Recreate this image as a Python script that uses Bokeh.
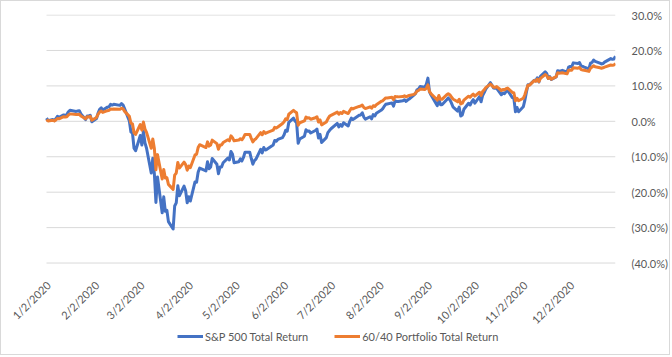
from math import pi
import pandas as pd
from bokeh.plotting import figure
from bokeh.models import Range1d, FixedTicker, Legend
from bokeh.core.properties import value
from bokeh.embed import file_html
from bokeh.resources import INLINE

# Trading days of 2020, per month
trading_days = {
    1: [2, 3, 6, 7, 8, 9, 10, 13, 14, 15, 16, 17, 21, 22, 23, 24, 27, 28, 29, 30, 31],
    2: [3, 4, 5, 6, 7, 10, 11, 12, 13, 14, 18, 19, 20, 21, 24, 25, 26, 27, 28],
    3: [2, 3, 4, 5, 6, 9, 10, 11, 12, 13, 16, 17, 18, 19, 20, 23, 24, 25, 26, 27, 30, 31],
    4: [1, 2, 3, 6, 7, 8, 9, 13, 14, 15, 16, 17, 20, 21, 22, 23, 24, 27, 28, 29, 30],
    5: [1, 4, 5, 6, 7, 8, 11, 12, 13, 14, 15, 18, 19, 20, 21, 22, 26, 27, 28, 29],
    6: [1, 2, 3, 4, 5, 8, 9, 10, 11, 12, 15, 16, 17, 18, 19, 22, 23, 24, 25, 26, 29, 30],
    7: [1, 2, 6, 7, 8, 9, 10, 13, 14, 15, 16, 17, 20, 21, 22, 23, 24, 27, 28, 29, 30, 31],
    8: [3, 4, 5, 6, 7, 10, 11, 12, 13, 14, 17, 18, 19, 20, 21, 24, 25, 26, 27, 28, 31],
    9: [1, 2, 3, 4, 8, 9, 10, 11, 14, 15, 16, 17, 18, 21, 22, 23, 24, 25, 28, 29, 30],
    10: [1, 2, 5, 6, 7, 8, 9, 12, 13, 14, 15, 16, 19, 20, 21, 22, 23, 26, 27, 28, 29, 30],
    11: [2, 3, 4, 5, 6, 9, 10, 11, 12, 13, 16, 17, 18, 19, 20, 23, 24, 25, 27, 30],
    12: [1, 2, 3, 4, 7, 8, 9, 10, 11, 14, 15, 16, 17, 18, 21, 22, 23, 24, 28, 29, 30, 31],
}

# S&P 500 Total Return (%), one value per trading day
sp500_total_return = [
    0.9, 0.2, 0.5, 0.2, 0.7, 1.4, 1.1, 1.8, 1.7, 1.9, 2.7, 3.1, 2.8, 2.9, 3.0, 2.1, 0.5, 1.5, 1.4, 1.7, -0.1,
    0.8, 2.3, 3.4, 3.8, 3.2, 4.0, 4.1, 4.8, 4.6, 4.8, 4.5, 5.0, 4.6, 3.5, 0.1, -3.0, -3.3, -7.6, -8.3,
    -4.0, -6.7, -2.8, -6.1, -7.6, -14.6, -10.4, -14.8, -22.9, -15.7, -25.8, -21.3, -25.4, -25.1, -28.3, -30.4, -23.9, -23.0, -18.2, -21.0, -18.3, -19.6,
    -23.0, -21.3, -22.5, -17.1, -17.2, -14.4, -13.2, -14.0, -11.4, -13.4, -12.9, -10.5, -12.1, -14.8, -12.9, -12.9, -11.7, -10.4, -10.9, -8.5, -9.3,
    -11.7, -11.4, -10.6, -11.2, -10.2, -8.7, -8.7, -10.5, -12.1, -11.1, -10.7, -7.9, -8.9, -7.4, -8.1, -7.9, -6.7, -5.4, -5.6, -5.1,
    -4.6, -3.8, -2.5, -2.8, -0.3, 0.9, 0.1, -0.4, -6.2, -5.0, -4.2, -2.4, -2.8, -2.7, -3.3, -2.6, -2.2, -4.7, -3.7, -6.0, -4.6, -3.2,
    -2.6, -2.1, -0.6, -1.6, -0.9, -1.4, -0.4, -1.3, 0.0, 0.9, 0.5, 0.8, 1.7, 1.8, 2.4, 1.2, 0.6, 1.3, 0.7, 1.9, 1.5, 2.3,
    3.1, 3.5, 4.2, 4.8, 4.9, 5.2, 4.3, 5.8, 5.6, 5.6, 5.8, 6.1, 5.6, 6.0, 6.3, 7.4, 7.8, 8.9, 9.1, 9.8, 9.6,
    10.5, 12.2, 8.3, 7.4, 4.4, 6.5, 4.7, 4.7, 6.1, 6.6, 6.1, 5.2, 4.1, 2.9, 4.0, 1.5, 1.8, 3.4, 5.1, 4.6, 5.5,
    6.1, 5.1, 7.0, 5.5, 7.3, 8.1, 9.1, 10.9, 10.2, 9.4, 9.3, 9.3, 7.5, 8.0, 7.8, 8.4, 8.7, 6.7, 6.4, 2.7, 3.9, 2.7,
    4.1, 5.9, 8.2, 10.3, 10.3, 11.6, 11.4, 12.3, 11.1, 12.7, 14.0, 13.5, 12.1, 12.6, 11.8, 12.5, 14.3, 14.1, 14.4, 13.9,
    15.3, 15.5, 15.4, 16.5, 16.3, 16.6, 15.6, 15.5, 15.3, 14.8, 16.4, 16.6, 17.3, 16.9, 16.4, 16.2, 16.3, 16.7, 17.7, 17.5, 17.6, 18.4,
]

# 60/40 Portfolio Total Return (%), one value per trading day
portfolio_6040_total_return = [
    0.5, 0.1, 0.3, 0.1, 0.4, 0.8, 0.7, 1.3, 1.2, 1.3, 1.8, 2.1, 1.9, 1.9, 2.0, 1.5, 0.7, 1.3, 1.2, 1.4, 0.3,
    1.1, 2.0, 2.6, 2.9, 2.5, 3.0, 3.1, 3.5, 3.4, 3.5, 3.4, 3.7, 3.5, 2.8, 1.4, -0.5, -0.7, -3.3, -3.7,
    -0.9, -2.5, -0.2, -2.2, -3.1, -7.6, -5.0, -7.7, -13.7, -9.4, -16.3, -13.6, -16.0, -15.9, -17.8, -19.2, -15.2, -14.6, -11.6, -13.2, -11.5, -12.2,
    -13.8, -12.6, -13.1, -9.5, -9.3, -7.4, -6.6, -7.4, -5.8, -7.0, -6.7, -5.3, -6.3, -7.9, -6.7, -6.7, -6.0, -5.2, -5.5, -4.1, -4.6,
    -5.5, -5.3, -4.9, -5.2, -4.6, -3.7, -3.7, -4.8, -5.8, -5.2, -4.9, -3.2, -3.8, -2.9, -3.4, -3.2, -2.5, -1.7, -1.9, -1.6,
    -0.6, -0.1, 0.7, 0.5, 2.0, 3.1, 2.7, 2.4, -1.1, -0.4, 0.1, 1.2, 0.9, 1.0, 0.6, 1.0, 1.3, -0.2, 0.4, -1.0, -0.2, 0.7,
    1.4, 1.7, 2.6, 2.0, 2.5, 2.2, 2.8, 2.2, 3.0, 3.7, 3.5, 3.7, 4.2, 4.3, 4.6, 3.9, 3.6, 4.1, 3.7, 4.4, 4.2, 4.7,
    5.6, 5.8, 6.2, 6.6, 6.6, 6.8, 6.1, 7.0, 6.9, 6.9, 7.0, 7.2, 6.9, 7.1, 7.3, 7.6, 7.9, 8.5, 8.7, 9.1, 9.0,
    9.3, 10.3, 8.4, 7.8, 6.0, 7.3, 6.2, 6.2, 7.5, 7.8, 7.5, 6.9, 6.3, 5.5, 6.2, 4.9, 5.1, 6.0, 7.1, 6.8, 7.3,
    7.7, 7.1, 8.2, 7.3, 8.4, 8.9, 9.5, 10.5, 10.1, 9.6, 9.6, 9.8, 8.7, 9.0, 8.9, 9.2, 9.4, 8.2, 8.0, 5.8, 6.5, 5.8,
    6.5, 7.5, 8.9, 10.2, 10.2, 11.5, 11.3, 11.9, 11.2, 12.1, 13.2, 12.9, 12.1, 12.4, 11.9, 12.6, 13.7, 13.6, 13.7, 13.4,
    14.4, 14.5, 14.4, 15.1, 15.0, 15.2, 14.6, 14.5, 14.4, 14.1, 15.0, 15.3, 15.7, 15.4, 15.1, 15.0, 15.1, 15.3, 15.9, 15.8, 15.9, 16.3,
]

series_names = ["S&P 500 Total Return", "60/40 Portfolio Total Return"]
x_tick_dates = ["2020-01-02", "2020-02-02", "2020-03-02", "2020-04-02", "2020-05-02", "2020-06-02",
                "2020-07-02", "2020-08-02", "2020-09-02", "2020-10-02", "2020-11-02", "2020-12-02"]
x_tick_labels = ["1/2/2020", "2/2/2020", "3/2/2020", "4/2/2020", "5/2/2020", "6/2/2020",
                 "7/2/2020", "8/2/2020", "9/2/2020", "10/2/2020", "11/2/2020", "12/2/2020"]
y_ticks = [30, 20, 10, 0, -10, -20, -30, -40]
y_tick_labels = ["30.0%", "20.0%", "10.0%", "0.0%", "(10.0%)", "(20.0%)", "(30.0%)", "(40.0%)"]

dates = [pd.Timestamp(2020, m, d) for m in range(1, 13) for d in trading_days[m]]
x_tick_ts = [pd.Timestamp(d) for d in x_tick_dates]

FONT = "Lato"
TXT = "#595959"
GRID = "#d9d9d9"

# The frame reaches left of 1/2/2020 and below the (40.0%) gridline so the
# rotated date labels and the legend, which sit outside the value area in the
# reference, are not clipped; gridlines are drawn only across the value area.
p = figure(width=670, height=355, x_axis_type="datetime", y_axis_location="right",
           x_range=Range1d(pd.Timestamp("2019-12-06 18:30"), dates[-1]),
           y_range=Range1d(-65.25, 30.15),
           output_backend="svg", toolbar_location=None,
           min_border_left=4, min_border_right=56, min_border_top=13, min_border_bottom=4)
p.styles = {"border": "1px solid #d9d9d9"}
p.outline_line_color = None
p.background_fill_color = "white"
p.border_fill_color = "white"

p.xgrid.grid_line_color = None
p.ygrid.grid_line_color = None
p.xaxis.visible = False

ya = p.yaxis[0]
ya.ticker = FixedTicker(ticks=y_ticks)
ya.major_label_overrides = {t: lab for t, lab in zip(y_ticks, y_tick_labels)}
ya.axis_line_color = None
ya.major_tick_line_color = None
ya.minor_tick_line_color = None
ya.major_label_standoff = 10
ya.major_label_text_font = FONT
ya.major_label_text_font_size = "11px"
ya.major_label_text_color = TXT

# horizontal gridlines across the value area
p.segment(x0=[dates[0]] * len(y_ticks), y0=y_ticks, x1=[dates[-1]] * len(y_ticks), y1=y_ticks,
          line_color=GRID, line_width=1)

# date labels, rotated 45 degrees, hanging below the lowest gridline
p.text(x=x_tick_ts, y=[y_ticks[-1]] * len(x_tick_ts), text=x_tick_labels,
       angle=pi / 4, text_align="right", text_baseline="middle",
       x_offset=2, y_offset=20,
       text_font=value(FONT), text_font_size="11px", text_color=TXT)

r1 = p.line(dates, sp500_total_return, line_width=3, line_color="#4472C4", line_join="round")
r2 = p.line(dates, portfolio_6040_total_return, line_width=3, line_color="#ED7D31", line_join="round")

legend = Legend(items=[(series_names[0], [r1]), (series_names[1], [r2])],
                orientation="horizontal", location=(172, 8),
                border_line_color=None, background_fill_alpha=0,
                padding=0, margin=0, spacing=26, glyph_width=26, glyph_height=16,
                label_standoff=2, label_text_font=FONT, label_text_font_size="11px",
                label_text_color=TXT)
p.add_layout(legend)

open("out.html", "w").write(file_html(p, INLINE))
